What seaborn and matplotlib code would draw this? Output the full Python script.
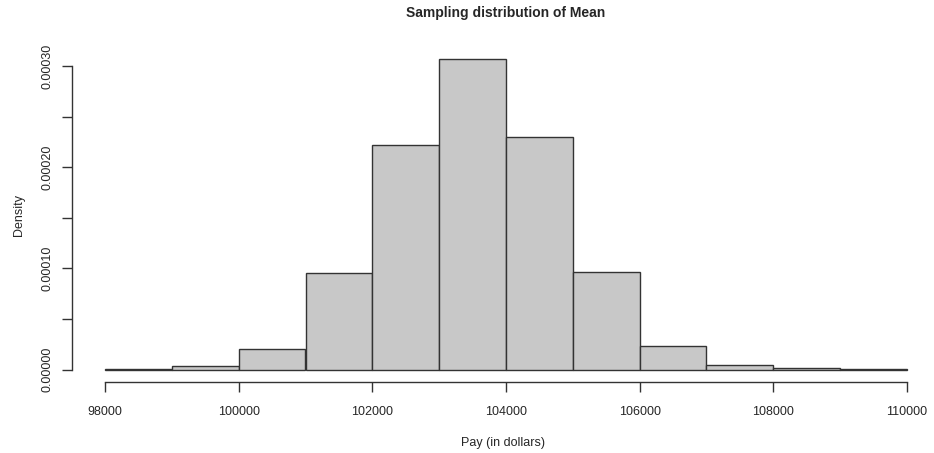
import matplotlib
matplotlib.use("Agg")
import matplotlib.pyplot as plt
import seaborn as sns
import numpy as np

bin_edges = [98000, 99000, 100000, 101000, 102000, 103000, 104000,
             105000, 106000, 107000, 108000, 109000, 110000]
densities = [0.0000005, 0.0000033, 0.0000204, 0.0000957, 0.0002222, 0.0003066,
             0.0002300, 0.0000962, 0.0000230, 0.0000042, 0.0000012, 0.0000002]
x_ticks = [98000, 100000, 102000, 104000, 106000, 108000, 110000]
y_ticks = [0.0, 0.00005, 0.00010, 0.00015, 0.00020, 0.00025, 0.00030]
y_labels = ["0.00000", "", "0.00010", "", "0.00020", "", "0.00030"]

sns.set_style("white")
plt.rcParams['font.family'] = ['Liberation Sans', 'DejaVu Sans']

W, H = 934, 453
fig = plt.figure(figsize=(W / 100, H / 100), dpi=100)
left_px, right_px, top_px, bot_px = 72, 934, 47, 382
ax = fig.add_axes([left_px / W, 1 - bot_px / H, (right_px - left_px) / W, (bot_px - top_px) / H])

centers = [(a + b) / 2 for a, b in zip(bin_edges[:-1], bin_edges[1:])]
sns.histplot(x=centers, weights=densities, bins=bin_edges, stat="count",
             color="#C8C8C8", edgecolor="#333333", linewidth=1.0, alpha=1.0, ax=ax)

# pixel mapping: 98000 -> 105 px, 110000 -> 907 px
scale = 12000 / 802
ax.set_xlim(98000 + (left_px - 105) * scale, 98000 + (right_px - 105) * scale)
ymax = 0.0003066
ax.set_ylim(-0.04 * ymax, 1.04 * ymax)

for s in ["top", "right"]:
    ax.spines[s].set_visible(False)
ax.spines["left"].set_bounds(0, 0.0003)
ax.spines["bottom"].set_bounds(98000, 110000)
for s in ["left", "bottom"]:
    ax.spines[s].set_color("#333333")
    ax.spines[s].set_linewidth(1.0)

ax.set_xticks(x_ticks)
ax.set_xticklabels([str(t) for t in x_ticks], fontsize=9)
ax.set_yticks(y_ticks)
ax.set_yticklabels(y_labels, fontsize=9, rotation=90, va="center")
ax.tick_params(axis="both", direction="out", length=7, width=1.0, color="#333333",
               bottom=True, left=True, pad=6)
ax.tick_params(axis="x", pad=10)

ax.set_xlabel("Pay (in dollars)", fontsize=9, labelpad=14)
ax.set_ylabel("Density", fontsize=9, labelpad=12)
ax.grid(False)
fig.text(0.5 * (105 + 907) / W, 1 - 13 / H, "Sampling distribution of Mean",
         ha="center", va="center", fontsize=10, fontweight="bold")

fig.savefig("out.png", dpi=100)
